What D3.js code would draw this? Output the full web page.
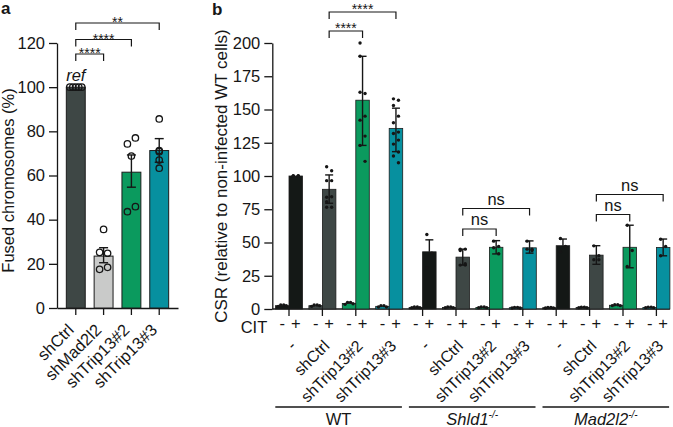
<!DOCTYPE html>
<html><head><meta charset="utf-8">
<script src="https://cdn.jsdelivr.net/npm/d3@7"></script>
<style>
body{margin:0;background:#fff}
svg{display:block}
text{font-family:"Liberation Sans",Arial,Helvetica,sans-serif;fill:#161616}
</style>
</head><body>
<svg id="c" width="673" height="427"></svg>
<script>
// ---------- Panel a data ----------
const catsA = ["shCtrl","shMad2l2","shTrip13#2","shTrip13#3"];
const meansA = [100, 23.5, 61.5, 71.3];
const errHiA = [100, 27.3, 69.3, 76.7];
const errLoA = [100, 20.5, 54.7, 66.0];
const pointsA = [
  [100,100,100,100,100],
  [35.6,25.2,24.8,17.5,18.4],
  [68.8,74.3,77,43.6,45.9],
  [85.6,71.3,70.8,67,63.3]
];
const ticksA = [0,20,40,60,80,100,120];
const sigA = [["shCtrl","shMad2l2","****"],["shCtrl","shTrip13#2","****"],["shCtrl","shTrip13#3","**"]];

// ---------- Panel b data ----------
const groupsB = ["WT","Shld1","Mad2l2"];
const condsB = ["-","shCtrl","shTrip13#2","shTrip13#3"];
const citB = ["-","+"];
const minusMeansB = [[2.5,2.5,4.2,2],[1.2,1.2,1.2,1],[1,1.2,2.8,1.2]];
const plusMeansB  = [[100,90,157,135.8],[43,39,46.4,46],[47.6,40.5,46.4,46.3]];
const plusErrHiB  = [[100,100.8,190,151],[52,45,51.4,51.2],[52.6,47.6,63,52.6]];
const plusErrLoB  = [[100,79.5,123,118.3],[43,33,41.4,42],[47.6,33.6,31,40]];
const plusPointsB = [
  [[100,100,100,100,100,100],[107,104,96.5,96.5,84,84.4,80.7,76.5,76.5],[200,162,163,145,142,130,123,111,190],[158,157,153,145,140,133,132,127,124,118,115,110]],
  [[56,42,31],[45,45,44,33,33,34],[51,47,46,41.5],[51,45,45,44]],
  [[53,47,43],[47.5,37,37,40],[63,44,32],[52.5,47,40]]
];
const minusPointsB = [
  [[2,3,3,2.5],[2,3,3,2.5],[3.5,5,5,4],[1.5,2.5,2.5,1.5]],
  [[1,1.5,1.5,1],[1,1.5,1.5,1],[1,1.5,1.5,1],[0.8,1.2,1.2,0.8]],
  [[0.8,1.2,1.2,0.8],[1,1.4,1.4,1],[2.5,3.2,3.2,2.5],[1,1.4,1.4,1]]
];
const ticksB = [0,25,50,75,100,125,150,175,200];
const groupLabelsB = [["WT",""],["Shld1","-/-"],["Mad2l2","-/-"]];
const sigB = [
  ["WT","shCtrl","shTrip13#2","****"],["WT","shCtrl","shTrip13#3","****"],
  ["Shld1","shCtrl","shTrip13#2","ns"],["Shld1","shCtrl","shTrip13#3","ns"],
  ["Mad2l2","shCtrl","shTrip13#2","ns"],["Mad2l2","shCtrl","shTrip13#3","ns"]
];

// ---------- drawing ----------
const svg = d3.select("#c");
const INK = "#161616";

function styleAxis(g){
  g.selectAll("path,line").attr("stroke",INK).attr("stroke-width",1.3);
  g.selectAll("text").attr("font-size",16.5).style("fill",INK);
}

// ===== Panel a =====
const yA = d3.scaleLinear().domain([0,120]).range([308,43]);
const xA = d3.scaleBand().domain(catsA).range([57,178]).paddingInner(0.32).paddingOuter(0.335);
const colA = d3.scaleOrdinal().domain(catsA).range(["#3e4745","#c9cac9","#0b9a5e","#07909f"]);
const gA = svg.append("g");

svg.append("text").attr("x",1).attr("y",14).attr("font-size",17).attr("font-weight","bold").text("a");

gA.append("g").attr("transform",`translate(${xA.range()[0]},0)`)
  .call(d3.axisLeft(yA).tickValues(ticksA).tickSize(8).tickPadding(4).tickSizeOuter(0))
  .call(styleAxis);
gA.append("g").attr("transform",`translate(0,${yA(0)})`)
  .call(d3.axisBottom(xA).tickSize(7).tickSizeOuter(0).tickFormat(""))
  .call(styleAxis);

gA.append("text").attr("transform",`translate(14,${(yA(0)+yA(120))/2+5}) rotate(-90)`)
  .attr("text-anchor","middle").attr("font-size",16.5).text("Fused chromosomes (%)");

const bwA = xA.bandwidth();
catsA.forEach((c,i)=>{
  const cx = xA(c)+bwA/2;
  gA.append("rect").attr("x",xA(c)).attr("y",yA(meansA[i])).attr("width",bwA)
    .attr("height",yA(0)-yA(meansA[i])).attr("fill",colA(c)).attr("stroke","#1c1c1c").attr("stroke-width",1);
  if(errHiA[i]!==errLoA[i]){
    gA.append("line").attr("x1",cx).attr("x2",cx).attr("y1",yA(errLoA[i])).attr("y2",yA(errHiA[i])).attr("stroke",INK).attr("stroke-width",1.4);
    [errHiA[i],errLoA[i]].forEach(v=>gA.append("line").attr("x1",cx-4.5).attr("x2",cx+4.5).attr("y1",yA(v)).attr("y2",yA(v)).attr("stroke",INK).attr("stroke-width",1.4));
  }
  const jit = i===0 ? [-6,-3,0,3,6] : (i===3 ? [0,0,0,0,0] : [0,-4,4,-4,4]);
  pointsA[i].forEach((v,k)=>{
    gA.append("circle").attr("cx",cx+jit[k]).attr("cy",yA(v)).attr("r",3.2)
      .attr("fill","none").attr("stroke",INK).attr("stroke-width",1.3);
  });
  gA.append("text").attr("text-anchor","end").attr("font-size",16.5)
    .attr("transform",`translate(${cx-1},${yA(0)+23}) rotate(-45)`).text(c);
});
gA.append("text").attr("x",xA("shCtrl")+bwA/2).attr("y",yA(100)-6).attr("text-anchor","middle")
  .attr("font-size",16.5).attr("font-style","italic").text("ref");

const bracketYA = [54,39.5,23];
sigA.forEach((s,i)=>{
  const x1 = xA(s[0])+bwA/2, x2 = xA(s[1])+bwA/2, y = bracketYA[i];
  gA.append("path").attr("d",`M${x1},${y+7}V${y}H${x2}V${y+7}`).attr("fill","none").attr("stroke",INK).attr("stroke-width",1.2);
  gA.append("text").attr("x",(x1+x2)/2).attr("y",y+4).attr("text-anchor","middle").attr("font-size",14).text(s[2]);
});

// ===== Panel b =====
const keysB = groupsB.flatMap(g=>condsB.map(c=>g+"|"+c));
const xB = d3.scaleBand().domain(keysB).range([272.3,673.1]).padding(0);
const xSub = d3.scaleBand().domain(citB).range([0,xB.bandwidth()]).paddingInner(0).paddingOuter(0.237);
const yB = d3.scaleLinear().domain([0,200]).range([309,43]);
const colB = d3.scaleOrdinal().domain(condsB).range(["#141816","#3e4745","#0b9a5e","#07909f"]);
const gB = svg.append("g");
const bwB = xB.bandwidth(), sw = xSub.bandwidth();

svg.append("text").attr("x",212).attr("y",15).attr("font-size",17).attr("font-weight","bold").text("b");

gB.append("g").attr("transform",`translate(${xB.range()[0]},0)`)
  .call(d3.axisLeft(yB).tickValues(ticksB).tickSize(8).tickPadding(4).tickSizeOuter(0))
  .call(styleAxis);
const xAxB = gB.append("g").attr("transform",`translate(0,${yB(0)})`)
  .call(d3.axisBottom(xB).tickSize(7).tickSizeOuter(0).tickFormat(""))
  .call(styleAxis);
xAxB.select(".domain").remove();
const lastKey = keysB[keysB.length-1];
xAxB.append("line").attr("x1",xB.range()[0]).attr("x2",xB(lastKey)+xSub("+")+sw)
  .attr("stroke",INK).attr("stroke-width",1.3);

gB.append("text").attr("transform",`translate(227,${(yB(0)+yB(200))/2}) rotate(-90)`)
  .attr("text-anchor","middle").attr("font-size",17).text("CSR (relative to non-infected WT cells)");

gB.append("text").attr("x",xB.range()[0]-5).attr("y",333).attr("text-anchor","end").attr("font-size",16.5).text("CIT");

groupsB.forEach((g,gi)=>{
  condsB.forEach((c,ci)=>{
    const key = g+"|"+c, x0 = xB(key);
    const xm = x0+xSub("-"), xp = x0+xSub("+");
    gB.append("rect").attr("x",xm).attr("y",yB(minusMeansB[gi][ci])).attr("width",sw)
      .attr("height",yB(0)-yB(minusMeansB[gi][ci])).attr("fill",colB(c)).attr("stroke","#1c1c1c").attr("stroke-width",0.8);
    minusPointsB[gi][ci].forEach((v,k)=>{
      gB.append("circle").attr("cx",xm+sw/2+[-4,-1.5,1.5,4][k%4]).attr("cy",yB(v)).attr("r",1.7).attr("fill",INK);
    });
    const m = plusMeansB[gi][ci], cx = xp+sw/2;
    gB.append("rect").attr("x",xp).attr("y",yB(m)).attr("width",sw)
      .attr("height",yB(0)-yB(m)).attr("fill",colB(c)).attr("stroke","#1c1c1c").attr("stroke-width",0.8);
    const hi = plusErrHiB[gi][ci], lo = plusErrLoB[gi][ci];
    if(hi!==lo){
      gB.append("line").attr("x1",cx).attr("x2",cx).attr("y1",yB(lo)).attr("y2",yB(hi)).attr("stroke",INK).attr("stroke-width",1.4);
      [hi,lo].forEach(v=>{ if(v!==m) gB.append("line").attr("x1",cx-4).attr("x2",cx+4).attr("y1",yB(v)).attr("y2",yB(v)).attr("stroke",INK).attr("stroke-width",1.4);});
    }
    plusPointsB[gi][ci].forEach((v,k)=>{
      gB.append("circle").attr("cx",cx+(k%2?2.5:-2.5)).attr("cy",yB(v)).attr("r",1.7).attr("fill",INK);
    });
    gB.append("text").attr("x",xm+sw/2).attr("y",329).attr("text-anchor","middle").attr("font-size",16.5).text("-");
    gB.append("text").attr("x",cx).attr("y",329).attr("text-anchor","middle").attr("font-size",16.5).text("+");
    gB.append("text").attr("text-anchor","end").attr("font-size",16)
      .attr("transform",`translate(${x0+bwB/2+8},${347}) rotate(-45)`).text(c);
  });
  const gx1 = xB(g+"|"+condsB[0])+3, gx2 = xB(g+"|"+condsB[3])+bwB-4;
  gB.append("line").attr("x1",gx1).attr("x2",gx2).attr("y1",407).attr("y2",407).attr("stroke",INK).attr("stroke-width",1.3);
  const t = gB.append("text").attr("x",(gx1+gx2)/2).attr("y",425).attr("text-anchor","middle").attr("font-size",16.5);
  if(groupLabelsB[gi][1]){
    t.attr("font-style","italic");
    t.append("tspan").text(groupLabelsB[gi][0]);
    t.append("tspan").attr("font-size",10).attr("dy",-7).text(groupLabelsB[gi][1]);
  } else t.text(groupLabelsB[gi][0]);
});

const bracketYB = [31,12,229,208.5,214.5,194.5];
sigB.forEach((s,i)=>{
  const x1 = xB(s[0]+"|"+s[1])+xSub("+")+sw/2, x2 = xB(s[0]+"|"+s[2])+xSub("+")+sw/2, y = bracketYB[i];
  gB.append("path").attr("d",`M${x1},${y+7}V${y}H${x2}V${y+7}`).attr("fill","none").attr("stroke",INK).attr("stroke-width",1.2);
  if(s[3]==="ns"){
    gB.append("text").attr("x",(x1+x2)/2).attr("y",y-4).attr("text-anchor","middle").attr("font-size",16.5).text(s[3]);
  } else {
    gB.append("text").attr("x",(x1+x2)/2).attr("y",y+2).attr("text-anchor","middle").attr("font-size",14).text(s[3]);
  }
});
</script>
</body></html>
